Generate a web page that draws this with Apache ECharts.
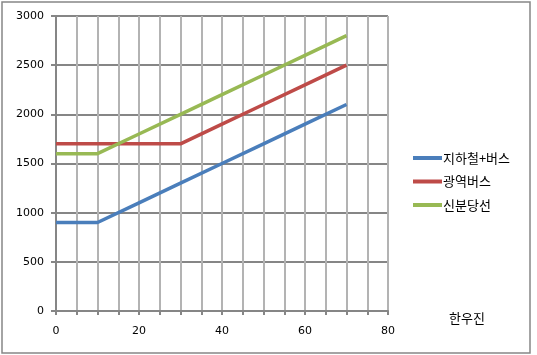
<!DOCTYPE html>
<html>
<head>
<meta charset="utf-8">
<script src="https://cdn.jsdelivr.net/npm/echarts@6/dist/echarts.min.js"></script>
<style>html,body{margin:0;padding:0;background:#fff}#c{width:537px;height:355px}</style>
</head>
<body>
<div id="c"></div>
<script>
const xValues = [0, 10, 20, 30, 40, 50, 60, 70];
const seriesNames = ['지하철+버스', '광역버스', '신분당선'];
const subwayBus = [900, 900, 1100, 1300, 1500, 1700, 1900, 2100];
const expressBus = [1700, 1700, 1700, 1700, 1900, 2100, 2300, 2500];
const sinbundang = [1600, 1600, 1800, 2000, 2200, 2400, 2600, 2800];
const colors = ['#4a7ebb', '#be4b48', '#98b954'];
const axisTitle = '한우진';

const values = [subwayBus, expressBus, sinbundang];
const chart = echarts.init(document.getElementById('c'), null, {renderer: 'canvas'});
chart.setOption({
  animation: false,
  grid: {left: 56, right: 149, top: 16, bottom: 44},
  xAxis: {
    type: 'value', min: 0, max: 80, interval: 20,
    axisLine: {show: true, onZero: false, lineStyle: {color: '#868686', width: 2}},
    axisTick: {show: true, length: 4, lineStyle: {color: '#868686', width: 2}},
    minorTick: {show: true, splitNumber: 4, length: 4, lineStyle: {color: '#868686', width: 2}},
    splitLine: {show: true, lineStyle: {color: '#b3b3b3', width: 2}},
    minorSplitLine: {show: true, lineStyle: {color: '#b3b3b3', width: 2}},
    axisLabel: {margin: 15, color: '#000', fontSize: 11, fontFamily: 'DejaVu Sans', formatter: v => String(v)}
  },
  yAxis: {
    type: 'value', min: 0, max: 3000, interval: 500,
    axisLine: {show: true, lineStyle: {color: '#868686', width: 2}},
    axisTick: {show: true, length: 5, lineStyle: {color: '#868686', width: 2}},
    splitLine: {show: true, lineStyle: {color: '#868686', width: 2}},
    axisLabel: {margin: 12, color: '#000', fontSize: 11, fontFamily: 'DejaVu Sans', formatter: v => String(v)}
  },
  legend: {
    orient: 'vertical', left: 413, top: 150, padding: 0,
    icon: 'rect', itemWidth: 29, itemHeight: 4, itemGap: 7.5,
    textStyle: {fontSize: 13, lineHeight: 16, color: '#000', fontFamily: 'Noto Sans CJK KR', padding: [0, 0, 0, -4]},
    data: seriesNames
  },
  graphic: [
    {type: 'rect', shape: {x: 2, y: 2, width: 528, height: 351}, style: {fill: 'none', stroke: '#868686', lineWidth: 1.5}, silent: true},
    {type: 'text', x: 467, y: 318, style: {text: axisTitle, fontSize: 13, fontFamily: 'Noto Sans CJK KR', fill: '#000', align: 'center', verticalAlign: 'middle'}}
  ],
  series: seriesNames.map((n, i) => ({
    name: n, type: 'line', showSymbol: false, symbol: 'none',
    data: xValues.map((x, j) => [x, values[i][j]]),
    itemStyle: {color: colors[i]},
    lineStyle: {color: colors[i], width: 3.5}
  }))
});
</script>
</body>
</html>
